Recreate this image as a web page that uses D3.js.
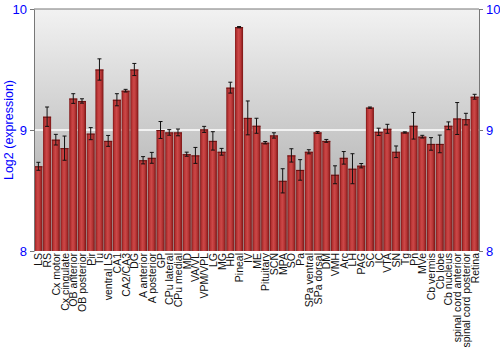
<!DOCTYPE html>
<html><head><meta charset="utf-8">
<script src="https://cdn.jsdelivr.net/npm/d3@7"></script>
<style>body{margin:0;background:#fff}svg{display:block}</style>
</head><body>
<script>
const categories = ["LS","RS","Cx motor","Cx cingulate","OB anterior","OB posterior","Pir","Tu","ventral LS","CA1","CA2/CA3","DG","A anterior","A posterior","GP","CPu lateral","CPu medial","MD","VA/VL","VPM/VPL","LG","MG","Hb","Pineal","IV","ME","Pituitary","SCN","MPA","SO","Pa","SPa ventral","SPa dorsal","DM","VMH","Arc","LH","PAG","SC","IC","VTA","SN","Tg","Pn","MVe","Cb vermis","Cb lobe","Cb nucleus","spinal cord anterior","spinal cord posterior","Retina"];
const values = [8.70,9.11,8.92,8.85,9.26,9.24,8.97,9.50,8.91,9.25,9.325,9.50,8.75,8.77,9.00,8.98,8.98,8.80,8.79,9.005,8.91,8.82,9.35,9.85,9.10,9.035,8.895,8.955,8.58,8.79,8.67,8.82,8.98,8.91,8.63,8.77,8.68,8.705,9.185,8.985,9.01,8.82,8.98,9.035,8.945,8.885,8.885,9.035,9.095,9.09,9.275];
const errors = [0.033,0.08,0.044,0.1,0.04,0.018,0.05,0.088,0.045,0.05,0.011,0.05,0.03,0.045,0.07,0.023,0.028,0.017,0.066,0.025,0.076,0.028,0.045,0.005,0.14,0.062,0.01,0.022,0.1,0.055,0.085,0.017,0.008,0.012,0.074,0.052,0.124,0.018,0.005,0.03,0.037,0.048,0.005,0.11,0.011,0.052,0.073,0.032,0.132,0.048,0.02];
const yTicks = [8,9,10];

const W=500,H=350, L=34, R=479, T=9, B=251;
const svg=d3.select("body").append("svg").attr("width",W).attr("height",H);
const defs=svg.append("defs");
const bg=defs.append("linearGradient").attr("id","bg").attr("x1",0).attr("y1",0).attr("x2",0).attr("y2",1);
bg.append("stop").attr("offset","0%").attr("stop-color","#f2f2f2");
bg.append("stop").attr("offset","100%").attr("stop-color","#a2a2a2");
const bar=defs.append("linearGradient").attr("id","bar").attr("x1",0).attr("y1",0).attr("x2",1).attr("y2",0);
[["0%","#7c1414"],["20%","#b83434"],["45%","#cc4848"],["70%","#b83636"],["100%","#7a1414"]].forEach(s=>bar.append("stop").attr("offset",s[0]).attr("stop-color",s[1]));

const x=d3.scaleBand().domain(categories).range([L,R]).paddingInner(0.08).paddingOuter(0.04);
const y=d3.scaleLinear().domain([8,10]).range([B,T]);

svg.append("rect").attr("x",L).attr("y",T).attr("width",R-L).attr("height",B-T).attr("fill","url(#bg)");
svg.append("line").attr("x1",L).attr("x2",R).attr("y1",y(9)).attr("y2",y(9)).attr("stroke","#fff").attr("stroke-width",1.5);

svg.selectAll("rect.b").data(values).enter().append("rect").attr("class","b")
 .attr("x",(d,i)=>x(categories[i])).attr("width",x.bandwidth())
 .attr("y",d=>y(d)).attr("height",d=>B-y(d)).attr("fill","url(#bar)");
svg.selectAll("line.bt").data(values).enter().append("line")
 .attr("x1",(d,i)=>x(categories[i])).attr("x2",(d,i)=>x(categories[i])+x.bandwidth())
 .attr("y1",d=>y(d)+0.5).attr("y2",d=>y(d)+0.5).attr("stroke","#6a1010").attr("stroke-width",1);

const eg=svg.append("g").attr("stroke","#111").attr("stroke-width",1);
values.forEach((v,i)=>{
 const cx=x(categories[i])+x.bandwidth()/2;
 const y1=y(v+errors[i]), y2=y(v-errors[i]);
 eg.append("line").attr("x1",cx).attr("x2",cx).attr("y1",y1).attr("y2",y2);
 eg.append("line").attr("x1",cx-2).attr("x2",cx+2).attr("y1",y1).attr("y2",y1);
 eg.append("line").attr("x1",cx-2).attr("x2",cx+2).attr("y1",y2).attr("y2",y2);
});

const la=svg.append("g").attr("transform",`translate(${L},0)`).call(d3.axisLeft(y).tickValues(yTicks).tickFormat(d3.format("d")).tickSize(4).tickSizeOuter(0));
const ra=svg.append("g").attr("transform",`translate(${R},0)`).call(d3.axisRight(y).tickValues(yTicks).tickFormat(d3.format("d")).tickSize(4).tickSizeOuter(0));
[la,ra].forEach(a=>{a.select(".domain").attr("stroke","#777");a.selectAll(".tick line").attr("stroke","#777");
 a.selectAll("text").attr("fill","#0000ff").style("font-family","Liberation Sans, Arial, sans-serif").style("font-size","13px");});
svg.append("line").attr("x1",L).attr("x2",R).attr("y1",T).attr("y2",T).attr("stroke","#777");

svg.append("text").attr("transform",`translate(13,${(T+B)/2}) rotate(-90)`).attr("text-anchor","middle")
 .attr("fill","#0000ff").style("font-family","Liberation Sans, Arial, sans-serif").style("font-size","12.5px").text("Log2 (expression)");

svg.append("g").selectAll("text").data(categories).enter().append("text")
 .attr("transform",d=>`translate(${x(d)+x.bandwidth()/2+4},${B+2}) rotate(-90)`)
 .attr("text-anchor","end").attr("fill","#111").style("font-family","Liberation Sans, Arial, sans-serif").style("font-size","10.5px").text(d=>d);
</script>
</body></html>
